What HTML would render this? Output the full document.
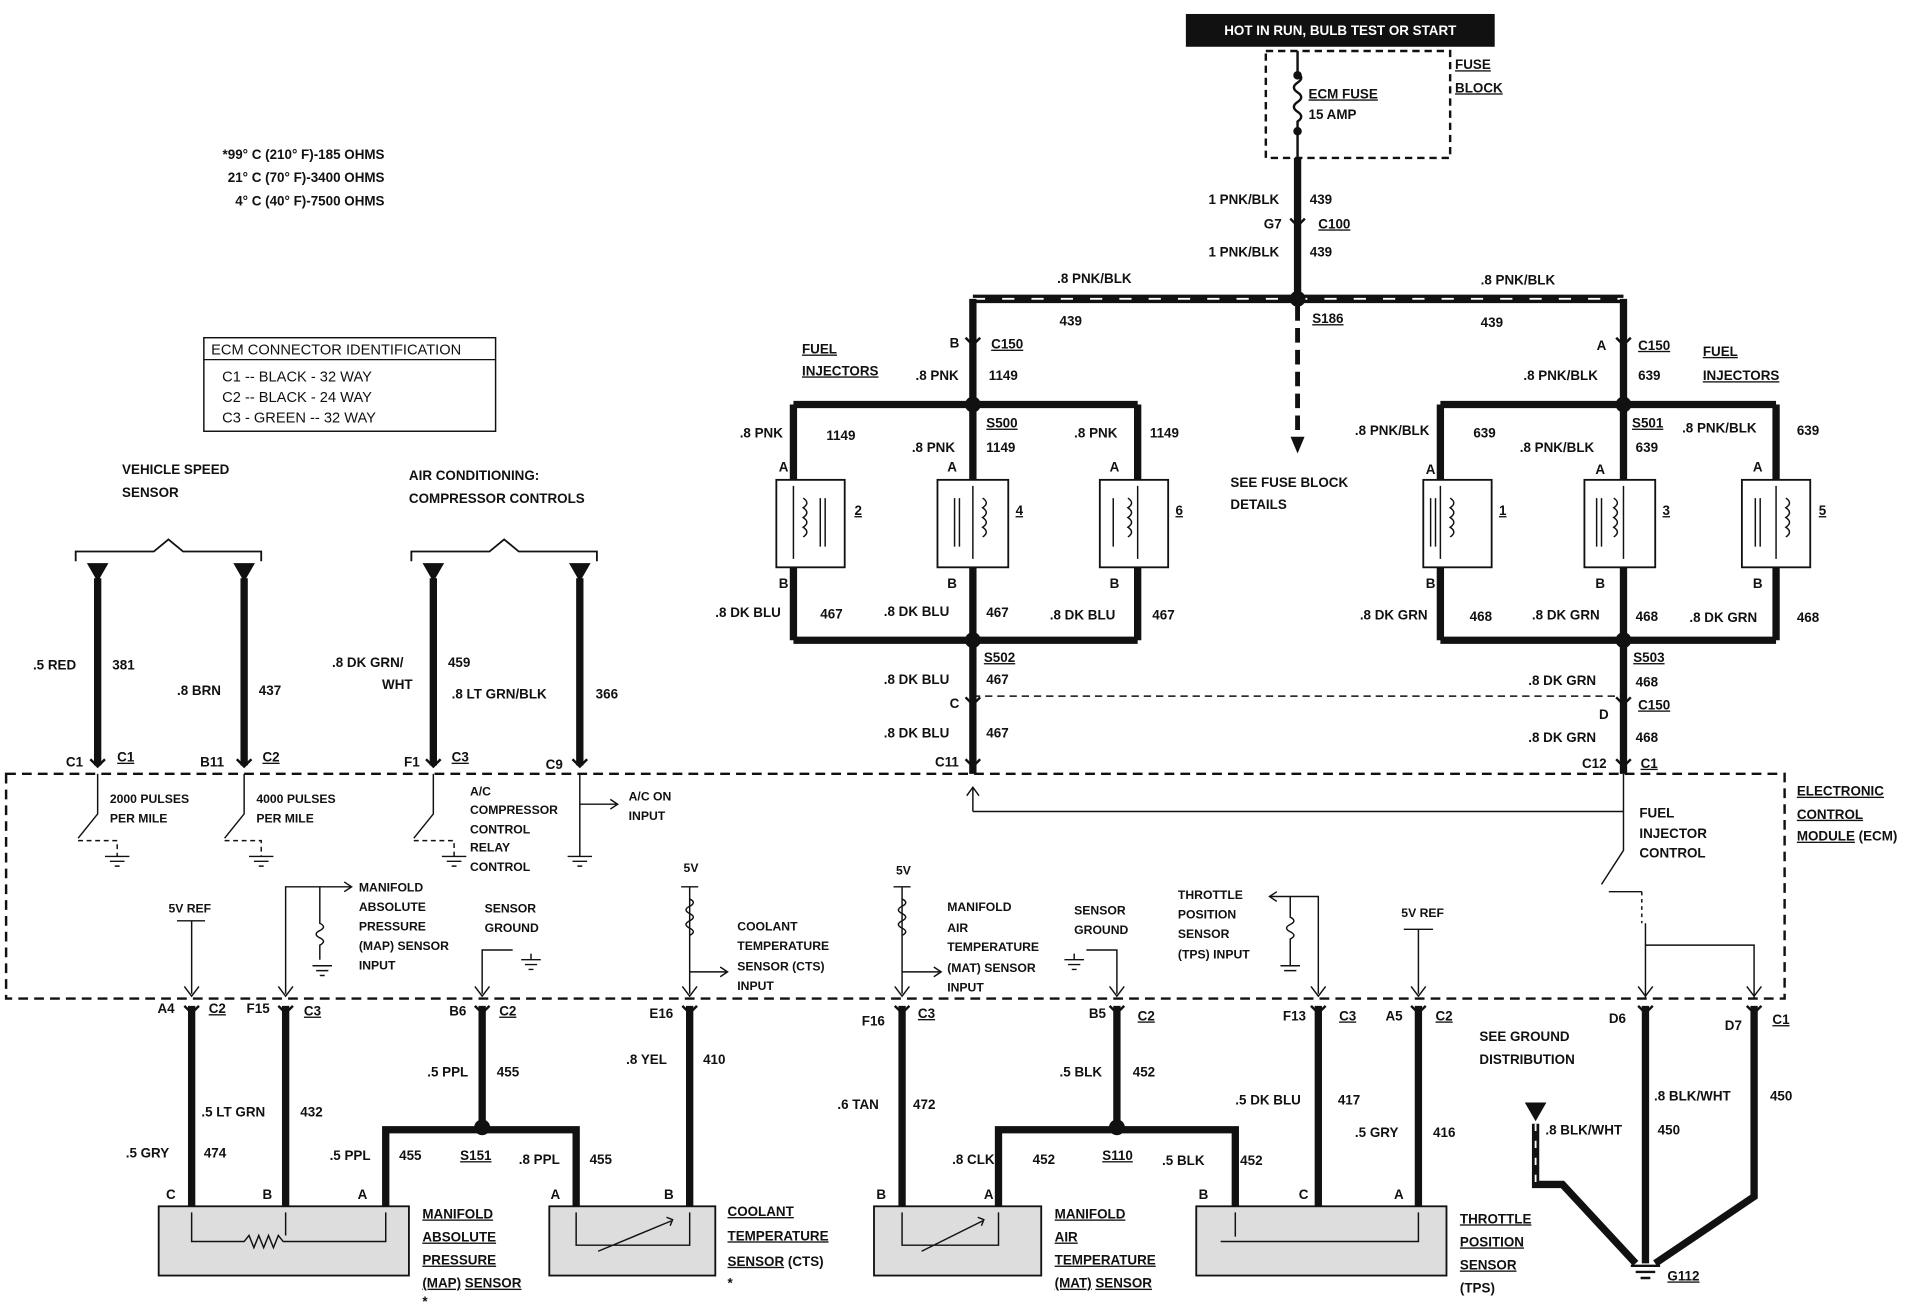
<!DOCTYPE html>
<html><head><meta charset="utf-8"><style>
html,body{margin:0;padding:0;background:#fff;}
svg{display:block}
text{font-family:"Liberation Sans",sans-serif;font-weight:bold;font-size:11px;fill:#111}
.u{text-decoration:underline}
</style></head><body>
<svg width="1914" height="1312" viewBox="0 0 1568 1080" preserveAspectRatio="none" xmlns="http://www.w3.org/2000/svg">
<g stroke="#111" fill="none">
<rect x="972" y="12" width="252" height="26" fill="#111"/>
<rect x="1037" y="42" width="151" height="88" stroke-dasharray="6,4" stroke-width="2"/>
<path d="M1063 42 V60 q6 4 0 8 q-6 4 0 8 q6 4 0 8 q-6 4 0 8 q6 4 0 8 V130" stroke-width="2"/>
<circle cx="1063" cy="62" r="3" fill="#111"/><circle cx="1063" cy="108" r="3" fill="#111"/>
<path d="M1063 130 V246" stroke-width="6"/>
<path d="M1057 180 l6 6 l6 -6" stroke-width="2"/>
<path d="M797 246 H1330" stroke-width="7"/>
<path d="M797 246 H1330" stroke="#fff" stroke-width="1.5" stroke-dasharray="10,14"/>
<circle cx="1063" cy="246" r="6" fill="#111"/>
<path d="M1063 252 V360" stroke-width="4" stroke-dasharray="12,6"/>
<path d="M1058 360 l5 12 l5 -12 z" fill="#111"/>
<path d="M797 246 V333" stroke-width="6"/>
<path d="M791 278 l6 6 l6 -6" stroke-width="2"/>
<path d="M650 333 H932 M650 333 V395 M797 333 V395 M932 333 V395" stroke-width="6"/>
<circle cx="797" cy="333" r="6" fill="#111"/>
<path d="M650 467 V527 M797 467 V637 M932 467 V527 M650 527 H932" stroke-width="6"/>
<circle cx="797" cy="527" r="6" fill="#111"/>
<path d="M791 574 l6 6 l6 -6 M791 625 l6 6 l6 -6" stroke-width="2"/>
<path d="M1330 246 V333" stroke-width="6"/>
<path d="M1324 278 l6 6 l6 -6" stroke-width="2"/>
<path d="M1180 333 H1455 M1180 333 V395 M1330 333 V395 M1455 333 V395" stroke-width="6"/>
<circle cx="1330" cy="333" r="6" fill="#111"/>
<path d="M1180 467 V527 M1330 467 V637 M1455 467 V527 M1180 527 H1455" stroke-width="6"/>
<circle cx="1330" cy="527" r="6" fill="#111"/>
<path d="M1324 574 l6 6 l6 -6 M1324 625 l6 6 l6 -6" stroke-width="2"/>
<path d="M797 573 H1330" stroke-dasharray="6,4" stroke-width="1.2"/>
<g stroke-width="1.5">
<rect x="636" y="395" width="56" height="72"/><rect x="768" y="395" width="58" height="72"/><rect x="901" y="395" width="56" height="72"/>
<rect x="1166" y="395" width="56" height="72"/><rect x="1298" y="395" width="58" height="72"/><rect x="1427" y="395" width="56" height="72"/>
</g>
<g stroke-width="1.2">
<path d="M650 400 V460 M658 410 q6 4 0 8 q6 4 0 8 q6 4 0 8 q6 4 0 8 M672 410 V450 M676 410 V450"/>
<path d="M797 400 V460 M805 410 q6 4 0 8 q6 4 0 8 q6 4 0 8 q6 4 0 8 M782 410 V450 M786 410 V450"/>
<path d="M932 400 V460 M924 410 q6 4 0 8 q6 4 0 8 q6 4 0 8 q6 4 0 8 M912 410 V450"/>
<path d="M1180 400 V460 M1188 410 q6 4 0 8 q6 4 0 8 q6 4 0 8 q6 4 0 8 M1172 410 V450 M1176 410 V450"/>
<path d="M1330 400 V460 M1322 410 q6 4 0 8 q6 4 0 8 q6 4 0 8 q6 4 0 8 M1308 410 V450 M1312 410 V450"/>
<path d="M1455 400 V460 M1463 410 q6 4 0 8 q6 4 0 8 q6 4 0 8 q6 4 0 8 M1438 410 V450 M1442 410 V450"/>
</g>
<rect x="5" y="637" width="1457" height="185" stroke-dasharray="8,5" stroke-width="2"/>
<path d="M797 668 V648 M1330 668 H797" stroke-width="1.2"/>
<path d="M792 655 l5 -7 l5 7" stroke-width="1.2"/>
<path d="M1330 637 V700 L1312 728 M1318 734 H1345 M1348 760 V822 M1348 778 H1437 V822" stroke-width="1.2"/>
<path d="M1345 734 V760" stroke-width="1.2" stroke-dasharray="3,3"/>
<rect x="167" y="278" width="239" height="77" stroke-width="1.2"/>
<path d="M167 296 H406" stroke-width="1"/>
<path d="M80 476 V630 M200 476 V630 M355 476 V630 M475 476 V630" stroke-width="6"/>
<path d="M72 464 h16 l-8 14z M192 464 h16 l-8 14z M347 464 h16 l-8 14z M467 464 h16 l-8 14z" fill="#111"/>
<path d="M62 462 v-8 h64 l12 -10 l12 10 h64 v8 M337 462 v-8 h64 l12 -10 l12 10 h64 v8" stroke-width="1.5"/>
<path d="M74 625 l6 6 l6 -6 M194 625 l6 6 l6 -6 M349 625 l6 6 l6 -6 M469 625 l6 6 l6 -6" stroke-width="2"/>
<g stroke-width="1.2">
<path d="M80 637 V670 L64 690 M200 637 V670 L184 690 M355 637 V670 L339 690 M475 637 V705 M475 662 H505"/>
<path d="M64 692 H96 V705 M184 692 H214 V705 M339 692 H372 V705" stroke-dasharray="4,3"/>
<path d="M500 658 l6 4 l-6 4"/>
<path d="M86 705 h20 M90 709 h12 M94 713 h4 M204 705 h20 M208 709 h12 M212 713 h4 M362 705 h20 M366 709 h12 M370 713 h4 M465 705 h20 M469 709 h12 M473 713 h4"/>
<path d="M157 758 V818 M145 758 H168 M234 818 V730 H262 V760 q6 3 0 6 q-6 3 0 6 q6 3 0 6 V790 M262 730 H288"/>
<path d="M282 726 l6 4 l-6 4"/>
<path d="M256 795 h16 M259 799 h10 M262 803 h4"/>
<path d="M395 818 V782 H420 M427 790 h16 M430 794 h10 M433 798 h4 M435 785 V790"/>
<path d="M565 818 V730 M558 730 h14 M565 740 q6 3 0 6 q-6 3 0 6 q6 3 0 6 q-6 3 0 6 q6 3 0 6 M565 800 H595"/>
<path d="M590 796 l6 4 l-6 4"/>
<path d="M739 818 V730 M732 730 h14 M739 740 q6 3 0 6 q-6 3 0 6 q6 3 0 6 q-6 3 0 6 q6 3 0 6 M739 800 H770"/>
<path d="M765 796 l6 4 l-6 4"/>
<path d="M915 818 V782 H890 M872 790 h16 M875 794 h10 M878 798 h4 M880 785 V790"/>
<path d="M1080 818 V738 H1040 M1057 738 V755 q6 3 0 6 q-6 3 0 6 q6 3 0 6 V795 M1049 795 h16 M1052 799 h10"/>
<path d="M1046 734 l-6 4 l6 4"/>
<path d="M1162 818 V765 M1150 765 h24"/>
</g>
<path d="M151 812 l6 8 l6 -8 M228 812 l6 8 l6 -8 M389 812 l6 8 l6 -8 M559 812 l6 8 l6 -8 M733 812 l6 8 l6 -8 M909 812 l6 8 l6 -8 M1074 812 l6 8 l6 -8 M1156 812 l6 8 l6 -8 M1342 812 l6 8 l6 -8 M1431 812 l6 8 l6 -8" stroke-width="1.2"/>
<path d="M157 828 V993 M234 828 V993 M395 828 V930 M316 993 V930 H472 V993 M565 828 V993 M739 828 V993 M915 828 V930 M818 993 V930 H1012 V993 M1080 828 V993 M1162 828 V993 M1348 828 V1040 M1437 828 V985 L1356 1040" stroke-width="6"/>
<path d="M1258 925 V975 H1280 L1340 1040" stroke-width="6"/>
<path d="M1258 925 V975" stroke="#fff" stroke-width="1.5" stroke-dasharray="6,8"/>
<path d="M1250 908 h16 l-8 14z" fill="#111"/>
<circle cx="395" cy="928" r="6" fill="#111"/><circle cx="915" cy="928" r="6" fill="#111"/>
<path d="M151 828 l6 6 l6 -6 M228 828 l6 6 l6 -6 M389 828 l6 6 l6 -6 M559 828 l6 6 l6 -6 M733 828 l6 6 l6 -6 M909 828 l6 6 l6 -6 M1074 828 l6 6 l6 -6 M1156 828 l6 6 l6 -6 M1342 828 l6 6 l6 -6 M1431 828 l6 6 l6 -6" stroke-width="2"/>
<path d="M1336 1042 h24 M1340 1047 h16 M1344 1052 h8" stroke-width="2"/>
<g fill="#ddd" stroke-width="1.5">
<rect x="130" y="993" width="205" height="57"/><rect x="450" y="993" width="136" height="57"/>
<rect x="716" y="993" width="137" height="57"/><rect x="980" y="993" width="205" height="57"/>
</g>
<g stroke-width="1.2">
<path d="M157 998 V1022 H200 l4 -5 l4 10 l4 -10 l4 10 l4 -10 l4 10 l4 -10 l4 5 H316 V998 M234 998 V1017"/>
<path d="M472 998 V1025 H565 V998 M490 1030 L550 1005 M546 1002 l5 2 l-2 5"/>
<path d="M739 998 V1025 H818 V998 M755 1030 L805 1005 M801 1002 l5 2 l-2 5"/>
<path d="M1000 1022 H1162 V998 M1012 998 V1018"/>
</g>
</g>
<g>
<text x="1098" y="29" text-anchor="middle" style="fill:#fff;font-size:11px">HOT IN RUN, BULB TEST OR START</text>
<text x="1192" y="57" class="u">FUSE</text><text x="1192" y="76" class="u">BLOCK</text>
<text x="1072" y="81" class="u">ECM FUSE</text><text x="1072" y="98">15 AMP</text>
<text x="1048" y="168" text-anchor="end">1 PNK/BLK</text><text x="1073" y="168">439</text>
<text x="1050" y="188" text-anchor="end">G7</text><text x="1080" y="188" class="u">C100</text>
<text x="1048" y="211" text-anchor="end">1 PNK/BLK</text><text x="1073" y="211">439</text>
<text x="866" y="233">.8 PNK/BLK</text><text x="868" y="268">439</text>
<text x="1213" y="234">.8 PNK/BLK</text><text x="1213" y="269">439</text>
<text x="1075" y="266" class="u">S186</text>
<text x="1008" y="401">SEE FUSE BLOCK</text><text x="1008" y="419">DETAILS</text>
<text x="778" y="286">B</text><text x="812" y="287" class="u">C150</text>
<text x="1308" y="288">A</text><text x="1342" y="288" class="u">C150</text>
<text x="657" y="291" class="u">FUEL</text><text x="657" y="309" class="u">INJECTORS</text>
<text x="1395" y="293" class="u">FUEL</text><text x="1395" y="313" class="u">INJECTORS</text>
<text x="750" y="313">.8 PNK</text><text x="810" y="313">1149</text>
<text x="1248" y="313">.8 PNK/BLK</text><text x="1342" y="313">639</text>
<text x="606" y="360">.8 PNK</text><text x="677" y="362">1149</text>
<text x="808" y="352" class="u">S500</text>
<text x="747" y="372">.8 PNK</text><text x="808" y="372">1149</text>
<text x="880" y="360">.8 PNK</text><text x="942" y="360">1149</text>
<text x="1110" y="358">.8 PNK/BLK</text><text x="1207" y="360">639</text>
<text x="1337" y="352" class="u">S501</text>
<text x="1245" y="372">.8 PNK/BLK</text><text x="1340" y="372">639</text>
<text x="1378" y="356">.8 PNK/BLK</text><text x="1472" y="358">639</text>
<text x="638" y="388">A</text><text x="776" y="388">A</text><text x="909" y="388">A</text>
<text x="1168" y="390">A</text><text x="1307" y="390">A</text><text x="1436" y="388">A</text>
<text x="638" y="484">B</text><text x="776" y="484">B</text><text x="909" y="484">B</text>
<text x="1168" y="484">B</text><text x="1307" y="484">B</text><text x="1436" y="484">B</text>
<text x="700" y="424" class="u">2</text><text x="832" y="424" class="u">4</text><text x="963" y="424" class="u">6</text>
<text x="1228" y="424" class="u">1</text><text x="1362" y="424" class="u">3</text><text x="1490" y="424" class="u">5</text>
<text x="586" y="508">.8 DK BLU</text><text x="672" y="509">467</text>
<text x="724" y="507">.8 DK BLU</text><text x="808" y="508">467</text>
<text x="860" y="510">.8 DK BLU</text><text x="944" y="510">467</text>
<text x="1114" y="510">.8 DK GRN</text><text x="1204" y="511">468</text>
<text x="1255" y="510">.8 DK GRN</text><text x="1340" y="511">468</text>
<text x="1384" y="512">.8 DK GRN</text><text x="1472" y="512">468</text>
<text x="806" y="545" class="u">S502</text><text x="1338" y="545" class="u">S503</text>
<text x="724" y="563">.8 DK BLU</text><text x="808" y="563">467</text>
<text x="1252" y="564">.8 DK GRN</text><text x="1340" y="565">468</text>
<text x="778" y="583">C</text><text x="1310" y="592">D</text><text x="1342" y="584" class="u">C150</text>
<text x="724" y="607">.8 DK BLU</text><text x="808" y="607">467</text>
<text x="1252" y="611">.8 DK GRN</text><text x="1340" y="611">468</text>
<text x="766" y="631">C11</text><text x="1296" y="632">C12</text><text x="1344" y="632" class="u">C1</text>
<text x="1472" y="655" class="u">ELECTRONIC</text><text x="1472" y="674" class="u">CONTROL</text><text x="1472" y="692"><tspan class="u">MODULE</tspan> (ECM)</text>
<text x="1343" y="673">FUEL</text><text x="1343" y="690">INJECTOR</text><text x="1343" y="706">CONTROL</text>
<text x="315" y="131" text-anchor="end">*99° C (210° F)-185 OHMS</text>
<text x="315" y="150" text-anchor="end">21° C (70° F)-3400 OHMS</text>
<text x="315" y="169" text-anchor="end">4° C (40° F)-7500 OHMS</text>
<text x="173" y="292" style="font-weight:normal;font-size:12px">ECM CONNECTOR IDENTIFICATION</text>
<text x="182" y="314" style="font-weight:normal;font-size:12px">C1   --   BLACK      -   32 WAY</text>
<text x="182" y="331" style="font-weight:normal;font-size:12px">C2   --   BLACK      -   24 WAY</text>
<text x="182" y="348" style="font-weight:normal;font-size:12px">C3   -    GREEN     --  32 WAY</text>
<text x="100" y="390">VEHICLE SPEED</text><text x="100" y="409">SENSOR</text>
<text x="335" y="395">AIR CONDITIONING:</text><text x="335" y="414">COMPRESSOR CONTROLS</text>
<text x="27" y="551">.5 RED</text><text x="92" y="551">381</text>
<text x="145" y="572">.8 BRN</text><text x="212" y="572">437</text>
<text x="272" y="549">.8 DK GRN/</text><text x="313" y="567">WHT</text><text x="367" y="549">459</text>
<text x="370" y="575">.8 LT GRN/BLK</text><text x="488" y="575">366</text>
<text x="54" y="631">C1</text><text x="96" y="627" class="u">C1</text>
<text x="164" y="631">B11</text><text x="215" y="627" class="u">C2</text>
<text x="331" y="631">F1</text><text x="370" y="627" class="u">C3</text>
<text x="447" y="633">C9</text>
<text x="90" y="661" style="font-size:10px">2000 PULSES</text><text x="90" y="677" style="font-size:10px">PER MILE</text>
<text x="210" y="661" style="font-size:10px">4000 PULSES</text><text x="210" y="677" style="font-size:10px">PER MILE</text>
<text x="385" y="655" style="font-size:10px">A/C</text><text x="385" y="670" style="font-size:10px">COMPRESSOR</text><text x="385" y="686" style="font-size:10px">CONTROL</text><text x="385" y="701" style="font-size:10px">RELAY</text><text x="385" y="717" style="font-size:10px">CONTROL</text>
<text x="515" y="659" style="font-size:10px">A/C ON</text><text x="515" y="675" style="font-size:10px">INPUT</text>
<text x="138" y="751" style="font-size:10px">5V REF</text>
<text x="294" y="734" style="font-size:10px">MANIFOLD</text><text x="294" y="750" style="font-size:10px">ABSOLUTE</text><text x="294" y="766" style="font-size:10px">PRESSURE</text><text x="294" y="782" style="font-size:10px">(MAP) SENSOR</text><text x="294" y="798" style="font-size:10px">INPUT</text>
<text x="397" y="751" style="font-size:10px">SENSOR</text><text x="397" y="767" style="font-size:10px">GROUND</text>
<text x="560" y="718" style="font-size:10px">5V</text>
<text x="604" y="766" style="font-size:10px">COOLANT</text><text x="604" y="782" style="font-size:10px">TEMPERATURE</text><text x="604" y="799" style="font-size:10px">SENSOR (CTS)</text><text x="604" y="815" style="font-size:10px">INPUT</text>
<text x="734" y="720" style="font-size:10px">5V</text>
<text x="776" y="750" style="font-size:10px">MANIFOLD</text><text x="776" y="767" style="font-size:10px">AIR</text><text x="776" y="783" style="font-size:10px">TEMPERATURE</text><text x="776" y="800" style="font-size:10px">(MAT) SENSOR</text><text x="776" y="816" style="font-size:10px">INPUT</text>
<text x="880" y="753" style="font-size:10px">SENSOR</text><text x="880" y="769" style="font-size:10px">GROUND</text>
<text x="965" y="740" style="font-size:10px">THROTTLE</text><text x="965" y="756" style="font-size:10px">POSITION</text><text x="965" y="772" style="font-size:10px">SENSOR</text><text x="965" y="789" style="font-size:10px">(TPS) INPUT</text>
<text x="1148" y="755" style="font-size:10px">5V REF</text>
<text x="129" y="834">A4</text><text x="171" y="834" class="u">C2</text>
<text x="202" y="834">F15</text><text x="249" y="836" class="u">C3</text>
<text x="368" y="836">B6</text><text x="409" y="836" class="u">C2</text>
<text x="532" y="838">E16</text>
<text x="706" y="844">F16</text><text x="752" y="838" class="u">C3</text>
<text x="892" y="838">B5</text><text x="932" y="840" class="u">C2</text>
<text x="1051" y="840">F13</text><text x="1097" y="840" class="u">C3</text>
<text x="1135" y="840">A5</text><text x="1176" y="840" class="u">C2</text>
<text x="1318" y="842">D6</text><text x="1413" y="848">D7</text><text x="1452" y="843" class="u">C1</text>
<text x="1212" y="857">SEE GROUND</text><text x="1212" y="876">DISTRIBUTION</text>
<text x="350" y="886">.5 PPL</text><text x="407" y="886">455</text>
<text x="513" y="876">.8 YEL</text><text x="576" y="876">410</text>
<text x="686" y="913">.6 TAN</text><text x="748" y="913">472</text>
<text x="868" y="886">.5 BLK</text><text x="928" y="886">452</text>
<text x="1012" y="909">.5 DK BLU</text><text x="1096" y="909">417</text>
<text x="1110" y="936">.5 GRY</text><text x="1174" y="936">416</text>
<text x="1355" y="906">.8 BLK/WHT</text><text x="1450" y="906">450</text>
<text x="1266" y="934">.8 BLK/WHT</text><text x="1358" y="934">450</text>
<text x="165" y="919">.5 LT GRN</text><text x="246" y="919">432</text>
<text x="103" y="953">.5 GRY</text><text x="167" y="953">474</text>
<text x="270" y="955">.5 PPL</text><text x="327" y="955">455</text>
<text x="377" y="955" class="u">S151</text>
<text x="425" y="958">.8 PPL</text><text x="483" y="958">455</text>
<text x="780" y="958">.8 CLK</text><text x="846" y="958">452</text>
<text x="903" y="955" class="u">S110</text>
<text x="952" y="959">.5 BLK</text><text x="1016" y="959">452</text>
<text x="136" y="987">C</text><text x="215" y="987">B</text><text x="293" y="987">A</text>
<text x="451" y="987">A</text><text x="544" y="987">B</text>
<text x="718" y="987">B</text><text x="806" y="987">A</text>
<text x="982" y="987">B</text><text x="1064" y="987">C</text><text x="1142" y="987">A</text>
<text x="346" y="1003" class="u">MANIFOLD</text><text x="346" y="1022" class="u">ABSOLUTE</text><text x="346" y="1041" class="u">PRESSURE</text><text x="346" y="1060"><tspan class="u">(MAP)</tspan> <tspan class="u">SENSOR</tspan></text><text x="346" y="1075">*</text>
<text x="596" y="1001" class="u">COOLANT</text><text x="596" y="1021" class="u">TEMPERATURE</text><text x="596" y="1042"><tspan class="u">SENSOR</tspan> (CTS)</text><text x="596" y="1060">*</text>
<text x="864" y="1003" class="u">MANIFOLD</text><text x="864" y="1022" class="u">AIR</text><text x="864" y="1041" class="u">TEMPERATURE</text><text x="864" y="1060"><tspan class="u">(MAT)</tspan> <tspan class="u">SENSOR</tspan></text>
<text x="1196" y="1007" class="u">THROTTLE</text><text x="1196" y="1026" class="u">POSITION</text><text x="1196" y="1045" class="u">SENSOR</text><text x="1196" y="1064">(TPS)</text>
<text x="1366" y="1054" class="u">G112</text>
</g>
</svg>
</body></html>
